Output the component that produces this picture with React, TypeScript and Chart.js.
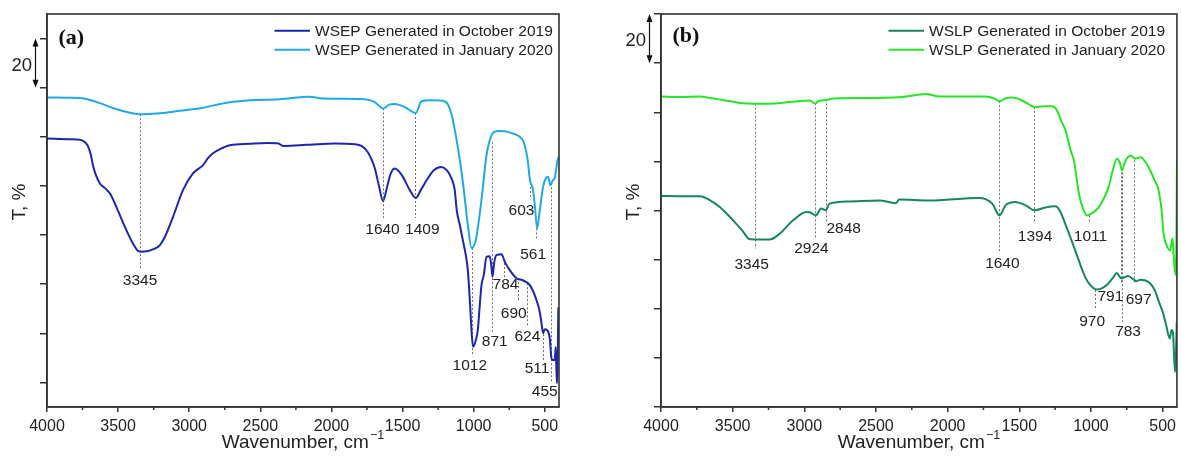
import React, { useEffect, useRef } from 'react';
import { Chart, registerables } from 'chart.js';

Chart.register(...registerables);

const SANS = '"Liberation Sans", Arial, Helvetica, sans-serif';
const SERIF = '"Liberation Serif", "Times New Roman", serif';

// ---------------- data: panel (a) WSEP ----------------
const wsepOctWn = [4000, 3838, 3768, 3733, 3712, 3691, 3677, 3656, 3628, 3592, 3557, 3508, 3452, 3396, 3361, 3332, 3241, 3206, 3171, 3114, 3044, 2974, 2932, 2904, 2868, 2833, 2784, 2714, 2573, 2454, 2377, 2341, 2222, 2152, 1976, 1835, 1786, 1744, 1716, 1695, 1667, 1637, 1611, 1582, 1554, 1505, 1449, 1407, 1372, 1331, 1280, 1226, 1189, 1156, 1133, 1119, 1097, 1076, 1055, 1041, 1027, 1013, 1004, 985, 971, 957, 945, 929, 910, 887, 876, 868, 855, 840, 804, 781, 746, 699, 655, 605, 558, 535, 523, 512, 500, 484, 465, 453, 441, 430, 423, 418, 414, 409, 405, 402];
const wsepOctT = [99.3, 99.0, 98.8, 97.8, 96.2, 92.5, 88.4, 84.4, 81.0, 79.1, 76.9, 70.9, 63.3, 56.6, 53.6, 53.2, 54.5, 55.9, 59.3, 67.4, 78.3, 85.1, 87.1, 88.4, 91.3, 93.3, 95.0, 96.6, 97.2, 97.5, 97.4, 96.3, 96.6, 96.8, 97.3, 97.0, 96.2, 93.7, 90.5, 87.2, 80.3, 73.9, 79.1, 85.2, 87.1, 84.4, 78.3, 75.1, 78.3, 82.3, 86.4, 87.7, 86.4, 83.1, 78.3, 70.1, 64.0, 57.9, 51.8, 45.7, 33.5, 19.3, 14.5, 17.2, 21.3, 31.5, 39.6, 43.7, 51.1, 51.4, 47.7, 43.0, 49.0, 51.8, 52.2, 49.1, 45.7, 42.4, 41.6, 39.6, 33.5, 28.6, 24.1, 20.1, 21.7, 21.3, 18.0, 9.9, 9.1, 9.1, 14.4, 5.0, -0.3, 9.1, 29.4, 30.6];

const wsepJanWn = [4000, 3838, 3733, 3628, 3522, 3417, 3346, 3206, 3065, 2924, 2819, 2714, 2573, 2362, 2152, 2081, 1941, 1765, 1695, 1637, 1590, 1554, 1484, 1407, 1367, 1308, 1217, 1182, 1154, 1126, 1097, 1069, 1041, 1015, 985, 945, 910, 887, 866, 831, 781, 732, 676, 648, 620, 606, 599, 585, 570, 554, 535, 512, 493, 477, 460, 444, 430, 416, 405, 402];
const wsepJanT = [116.0, 115.9, 115.5, 113.7, 111.4, 109.8, 109.2, 109.6, 110.6, 111.6, 112.9, 114.1, 114.9, 115.3, 116.3, 115.7, 115.5, 115.3, 114.1, 111.5, 113.2, 113.4, 112.1, 109.7, 114.5, 114.9, 114.7, 113.3, 108.8, 100.7, 90.5, 78.3, 64.1, 54.7, 58.0, 74.3, 92.5, 98.6, 101.5, 102.4, 102.3, 101.5, 100.0, 97.8, 90.5, 83.1, 81.1, 79.1, 72.2, 62.7, 70.1, 79.6, 83.1, 83.7, 80.3, 82.3, 83.2, 88.4, 91.7, 91.3];

// ---------------- data: panel (b) WSLP ----------------
const wslpOctWn = [4000, 3866, 3727, 3657, 3588, 3497, 3435, 3380, 3241, 3171, 3078, 2985, 2962, 2920, 2882, 2851, 2823, 2685, 2477, 2361, 2337, 2130, 1782, 1689, 1638, 1596, 1527, 1457, 1393, 1319, 1249, 1219, 1180, 1110, 1041, 1004, 960, 921, 879, 844, 821, 802, 787, 768, 740, 713, 683, 657, 625, 588, 555, 525, 496, 475, 450, 437, 427, 420, 413, 406, 401];
const wslpOctT = [85.9, 85.8, 85.8, 84.1, 81.3, 76.0, 72.0, 68.3, 68.2, 70.6, 76.0, 79.4, 79.3, 78.0, 80.8, 80.1, 82.8, 83.7, 84.1, 83.0, 84.5, 84.1, 85.1, 82.8, 78.0, 82.1, 83.5, 82.1, 80.1, 81.2, 81.7, 80.1, 74.7, 63.8, 53.0, 49.6, 47.8, 48.4, 50.3, 52.8, 54.6, 53.2, 52.3, 52.8, 53.3, 52.4, 51.2, 51.8, 51.6, 50.4, 47.6, 42.7, 38.1, 33.3, 27.9, 31.3, 30.0, 21.1, 14.3, 23.2, 34.7];

const wslpJanWn = [4000, 3866, 3727, 3657, 3553, 3449, 3345, 3205, 3031, 2961, 2925, 2899, 2846, 2802, 2614, 2337, 2150, 2058, 1849, 1733, 1675, 1636, 1599, 1548, 1487, 1432, 1390, 1328, 1272, 1237, 1209, 1177, 1142, 1119, 1084, 1056, 1026, 1001, 945, 910, 876, 848, 818, 799, 783, 764, 725, 690, 655, 618, 586, 556, 528, 507, 493, 472, 447, 431, 424, 410, 403, 400];
const wslpJanT = [126.4, 126.2, 126.4, 125.8, 124.8, 123.8, 123.5, 123.6, 124.6, 124.8, 123.6, 124.6, 125.0, 125.6, 125.8, 126.1, 127.4, 126.4, 126.4, 126.4, 125.6, 124.5, 125.6, 126.0, 125.0, 123.2, 122.1, 122.4, 122.4, 120.7, 116.7, 112.6, 104.5, 100.4, 86.9, 80.9, 78.0, 78.5, 81.4, 85.0, 89.6, 96.3, 101.1, 99.6, 96.3, 99.6, 102.4, 101.1, 101.7, 99.6, 96.3, 92.3, 88.2, 80.1, 70.6, 65.9, 63.8, 68.7, 62.6, 53.7, 72.0, 100.4];

// ---------------- ticks & labels ----------------
const xTickValues = [4000, 3500, 3000, 2500, 2000, 1500, 1000, 500];
const xMinorValues = [3750, 3250, 2750, 2250, 1750, 1250, 750];
const leftYTicks = [0, 20, 40, 60, 80, 100, 120, 140];
const rightYTicks = [0, 20, 40, 60, 80, 100, 120, 140, 160];

const wsepLegend = ['WSEP Generated in October 2019', 'WSEP Generated in January 2020'];
const wslpLegend = ['WSLP Generated in October 2019', 'WSLP Generated in January 2020'];

// peak markers: wavenumber, dotted line from/to (T), label anchor (wavenumber, T)
const wsepPeaks = [3345, 1640, 1409, 1012, 871, 784, 690, 624, 511, 455, 603, 561];
const wsepPeakFrom = [109.2, 111.6, 109.7, 54.7, 97.8, 48.6, 42.5, 40.4, 21.3, 81.1, 79.6, 62.7];
const wsepPeakTo = [45.7, 66.9, 66.9, 10.7, 20.6, 42.5, 33.5, 22.6, 9.1, -0.3, 75.5, 57.9];
const wsepLabelWn = [3346, 1641, 1361, 1027, 852, 776, 718, 622, 554, 500, 664, 582];
const wsepLabelT = [41.6, 62.0, 62.0, 7.0, 16.5, 39.6, 28.1, 18.6, 5.7, -3.8, 70.1, 51.8];

const wslpPeaks = [3345, 2924, 2848, 1640, 1394, 1011, 970, 791, 783, 697];
const wslpPeakFrom = [123.5, 123.6, 125.2, 124.5, 122.1, 78.0, 47.6, 97.2, 97.2, 100.4];
const wslpPeakTo = [64.5, 68.6, 75.3, 62.5, 75.3, 74.8, 39.4, 50.4, 34.7, 50.3];
const wslpLabelWn = [3367, 2950, 2725, 1618, 1390, 1003, 992, 864, 741, 667];
const wslpLabelT = [58.0, 64.5, 72.4, 58.4, 69.5, 69.5, 34.7, 44.8, 30.6, 43.5];

const COLORS = {
  wsepOct: '#1b27ad',
  wsepJan: '#1fa9e6',
  wslpOct: '#15875a',
  wslpJan: '#26e526',
};

type PanelCfg = {
  label: string;
  series: { wn: number[]; t: number[]; color: string; name: string }[];
  yMin: number;
  yMax: number;
  yTicks: number[];
  axisWidth: number;
  padRight: number;
  canvasWidth: number;
  canvasLeft: number;
  peaks: number[];
  from: number[];
  to: number[];
  lblWn: number[];
  lblT: number[];
  barFrom: number;
  barTo: number;
  labelY: number;
};

const decorPlugin = {
  id: 'decor',
  beforeDatasetsDraw(chart: any, _a: any, opts: any) {
    const ctx = chart.ctx;
    const xs = chart.scales.x;
    const ys = chart.scales.y;
    ctx.save();
    ctx.strokeStyle = '#6f6f6f';
    ctx.lineWidth = 1;
    ctx.setLineDash([2, 2]);
    opts.peaks.forEach((wn: number, i: number) => {
      const px = Math.round(xs.getPixelForValue(wn)) + 0.5;
      ctx.beginPath();
      ctx.moveTo(px, ys.getPixelForValue(opts.from[i]));
      ctx.lineTo(px, ys.getPixelForValue(opts.to[i]));
      ctx.stroke();
    });
    ctx.restore();
  },
  afterDraw(chart: any, _a: any, opts: any) {
    const ctx = chart.ctx;
    const { left, right, top, bottom } = chart.chartArea;
    const xs = chart.scales.x;
    const ys = chart.scales.y;
    ctx.save();
    // peak labels
    ctx.fillStyle = '#222';
    ctx.font = `15.5px ${SANS}`;
    ctx.textAlign = 'center';
    ctx.textBaseline = 'middle';
    opts.peaks.forEach((wn: number, i: number) => {
      ctx.fillText(String(wn), xs.getPixelForValue(opts.lblWn[i]), ys.getPixelForValue(opts.lblT[i]));
    });
    // minor x ticks
    ctx.strokeStyle = '#333';
    ctx.lineWidth = 1.5;
    xMinorValues.forEach((v) => {
      const px = xs.getPixelForValue(v);
      ctx.beginPath();
      ctx.moveTo(px, bottom);
      ctx.lineTo(px, bottom + 3);
      ctx.stroke();
    });
    // frame
    ctx.strokeStyle = '#333';
    ctx.lineWidth = 1.6;
    ctx.strokeRect(left, top, right - left, bottom - top);
    // legend
    const datasets = chart.data.datasets;
    ctx.font = `15.5px ${SANS}`;
    ctx.textAlign = 'left';
    const ly = [top + 16.7, top + 35.7];
    datasets.forEach((ds: any, i: number) => {
      ctx.strokeStyle = ds.borderColor;
      ctx.lineWidth = 2;
      ctx.beginPath();
      ctx.moveTo(left + 227.5, ly[i]);
      ctx.lineTo(left + 263, ly[i]);
      ctx.stroke();
      ctx.fillStyle = '#222';
      ctx.fillText(ds.label, left + 268, ly[i] + 1);
    });
    // panel label
    ctx.font = `bold 22px ${SERIF}`;
    ctx.fillStyle = '#111';
    ctx.textBaseline = 'middle';
    ctx.fillText(opts.label, left + 11.5, opts.labelY);
    // scale bar
    const ax = left - 11.5;
    const y1 = ys.getPixelForValue(opts.barFrom);
    const y2 = ys.getPixelForValue(opts.barTo);
    ctx.strokeStyle = '#111';
    ctx.fillStyle = '#111';
    ctx.lineWidth = 1.2;
    ctx.beginPath();
    ctx.moveTo(ax, y1 + 5);
    ctx.lineTo(ax, y2 - 5);
    ctx.stroke();
    ctx.beginPath();
    ctx.moveTo(ax, y1);
    ctx.lineTo(ax - 3, y1 + 8);
    ctx.lineTo(ax + 3, y1 + 8);
    ctx.closePath();
    ctx.fill();
    ctx.beginPath();
    ctx.moveTo(ax, y2);
    ctx.lineTo(ax - 3, y2 - 8);
    ctx.lineTo(ax + 3, y2 - 8);
    ctx.closePath();
    ctx.fill();
    ctx.font = `18.5px ${SANS}`;
    ctx.fillStyle = '#222';
    ctx.textAlign = 'right';
    ctx.fillText('20', ax - 3.5, (y1 + y2) / 2 + 2.5);
    // y title
    ctx.save();
    ctx.translate(left - 27, 202);
    ctx.rotate(-Math.PI / 2);
    ctx.textAlign = 'center';
    ctx.font = `19px ${SANS}`;
    ctx.fillText('T, %', 0, 0);
    ctx.restore();
    // x title with superscript
    const main = 'Wavenumber, cm';
    const sup = '\u22121';
    ctx.font = `19px ${SANS}`;
    const w1 = ctx.measureText(main).width;
    ctx.font = `12.5px ${SANS}`;
    const w2 = ctx.measureText(sup).width;
    const cx = (left + right) / 2;
    const sx = cx - (w1 + w2 + 1) / 2;
    ctx.textAlign = 'left';
    ctx.textBaseline = 'alphabetic';
    ctx.font = `19px ${SANS}`;
    ctx.fillText(main, sx, 447.5);
    ctx.font = `12.5px ${SANS}`;
    ctx.fillText(sup, sx + w1 + 1, 439);
    ctx.restore();
  },
};

function Panel({ cfg }: { cfg: PanelCfg }) {
  const ref = useRef<HTMLCanvasElement>(null);
  useEffect(() => {
    const chart = new Chart(ref.current as HTMLCanvasElement, {
      type: 'line',
      data: {
        datasets: cfg.series.map((s) => ({
          label: s.name,
          data: s.wn.map((x, i) => ({ x, y: s.t[i] })),
          borderColor: s.color,
          backgroundColor: s.color,
          borderWidth: 2,
          pointRadius: 0,
          fill: false,
          cubicInterpolationMode: 'monotone' as const,
        })),
      },
      options: {
        animation: false,
        responsive: false,
        devicePixelRatio: 1,
        layout: { padding: { top: 14, right: cfg.padRight, bottom: 0, left: 0 } },
        plugins: {
          legend: { display: false },
          tooltip: { enabled: false },
          decor: {
            label: cfg.label,
            peaks: cfg.peaks,
            from: cfg.from,
            to: cfg.to,
            lblWn: cfg.lblWn,
            lblT: cfg.lblT,
            barFrom: cfg.barFrom,
            barTo: cfg.barTo,
            labelY: cfg.labelY,
          },
        } as any,
        scales: {
          x: {
            type: 'linear',
            min: 400,
            max: 4000,
            reverse: true,
            afterBuildTicks: (s: any) => {
              s.ticks = xTickValues.map((v) => ({ value: v }));
            },
            afterFit: (s: any) => {
              s.height = 51;
            },
            grid: { drawOnChartArea: false, drawTicks: true, tickLength: 5, color: '#333', lineWidth: 1.5 },
            border: { display: true, color: '#333', width: 1.6 },
            ticks: {
              font: { family: SANS, size: 16 },
              color: '#222',
              padding: 5,
              maxRotation: 0,
              autoSkip: false,
              callback: (v: any) => String(v),
            },
          },
          y: {
            type: 'linear',
            min: cfg.yMin,
            max: cfg.yMax,
            afterBuildTicks: (s: any) => {
              s.ticks = cfg.yTicks.map((v) => ({ value: v }));
            },
            afterFit: (s: any) => {
              s.width = cfg.axisWidth;
            },
            grid: { drawOnChartArea: false, drawTicks: true, tickLength: 7, color: '#333', lineWidth: 1.5 },
            border: { display: true, color: '#333', width: 1.6 },
            ticks: { display: false },
          },
        },
      },
      plugins: [decorPlugin as any],
    });
    return () => chart.destroy();
  }, [cfg]);
  return (
    <canvas
      ref={ref}
      width={cfg.canvasWidth}
      height={458}
      style={{ position: 'absolute', left: cfg.canvasLeft, top: 0, width: cfg.canvasWidth, height: 458 }}
    />
  );
}

const panelA: PanelCfg = {
  label: '(a)',
  series: [
    { wn: wsepOctWn, t: wsepOctT, color: COLORS.wsepOct, name: wsepLegend[0] },
    { wn: wsepJanWn, t: wsepJanT, color: COLORS.wsepJan, name: wsepLegend[1] },
  ],
  yMin: -10,
  yMax: 150,
  yTicks: leftYTicks,
  axisWidth: 47,
  padRight: 41,
  canvasWidth: 600,
  canvasLeft: 0,
  peaks: wsepPeaks,
  from: wsepPeakFrom,
  to: wsepPeakTo,
  lblWn: wsepLabelWn,
  lblT: wsepLabelT,
  barFrom: 140,
  barTo: 120,
  labelY: 38.3,
};

const panelB: PanelCfg = {
  label: '(b)',
  series: [
    { wn: wslpOctWn, t: wslpOctT, color: COLORS.wslpOct, name: wslpLegend[0] },
    { wn: wslpJanWn, t: wslpJanT, color: COLORS.wslpJan, name: wslpLegend[1] },
  ],
  yMin: 0,
  yMax: 160,
  yTicks: rightYTicks,
  axisWidth: 61,
  padRight: 2,
  canvasWidth: 581,
  canvasLeft: 600,
  peaks: wslpPeaks,
  from: wslpPeakFrom,
  to: wslpPeakTo,
  lblWn: wslpLabelWn,
  lblT: wslpLabelT,
  barFrom: 160,
  barTo: 140,
  labelY: 36.7,
};

export default function App() {
  return (
    <div style={{ position: 'fixed', left: 0, top: 0, width: 1181, height: 458, background: '#fff', overflow: 'hidden' }}>
      <Panel cfg={panelA} />
      <Panel cfg={panelB} />
    </div>
  );
}
